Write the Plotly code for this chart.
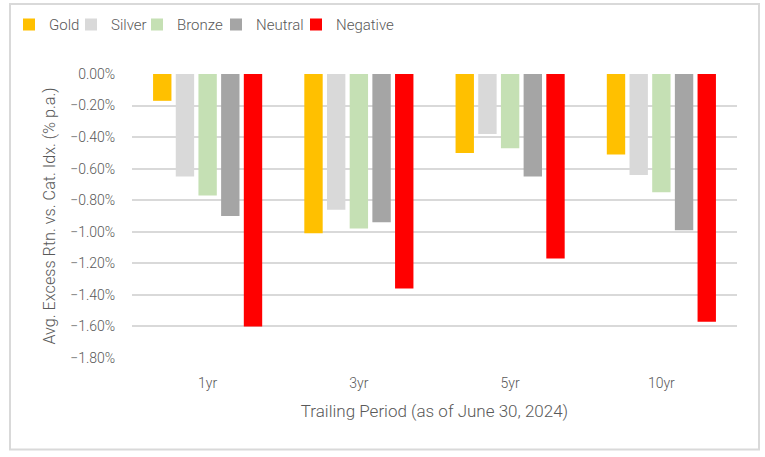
import plotly.graph_objects as go

periodes = ['1yr', '3yr', '5yr', '10yr']
gold = [-0.17, -1.01, -0.50, -0.51]
silver = [-0.65, -0.86, -0.38, -0.64]
bronze = [-0.77, -0.98, -0.47, -0.75]
neutral = [-0.90, -0.94, -0.65, -0.99]
negative = [-1.60, -1.36, -1.17, -1.57]
ticks_y = [0, -0.2, -0.4, -0.6, -0.8, -1.0, -1.2, -1.4, -1.6, -1.8]

series = [
    ('Gold', gold, '#FFC000'),
    ('Silver', silver, '#D9D9D9'),
    ('Bronze', bronze, '#C5E0B4'),
    ('Neutral', neutral, '#A5A5A5'),
    ('Negative', negative, '#FF0000'),
]

famille = 'Roboto, Liberation Sans, sans-serif'
gris = '#595959'
police = dict(family=famille, size=15, color=gris, weight=300)

# position (pixel) du carré de chaque entrée de légende
pos_legende = [29, 91, 157, 236, 316]
L, R, T, B = 132, 28, 74, 99
larg = 765 - L - R

fig = go.Figure()
for i, (nom, valeurs, couleur) in enumerate(series):
    leg = 'legend' if i == 0 else 'legend%d' % (i + 1)
    fig.add_trace(go.Bar(x=periodes, y=[v / 100 for v in valeurs], name=nom, legend=leg,
                         marker=dict(color=couleur, line=dict(width=0))))
    fig.update_layout({leg: dict(orientation='h', x=(pos_legende[i] - 20 - L) / larg, y=1.173,
                                 xanchor='left', yanchor='middle', font=police,
                                 itemwidth=30, bgcolor='rgba(0,0,0,0)')})

fig.update_layout(
    width=765, height=457,
    margin=dict(l=L, r=R, t=T, b=B, autoexpand=False),
    paper_bgcolor='white', plot_bgcolor='white',
    font=police, showlegend=True,
    barmode='group', bargap=0.25, bargroupgap=0.19,
)
fig.update_yaxes(range=[-0.018, 0], tickvals=[t / 100 for t in ticks_y], tickformat='.2%',
                 showgrid=True, gridcolor='#D9D9D9', gridwidth=1.5, zeroline=False,
                 ticks='outside', ticklen=13, tickcolor='rgba(0,0,0,0)', automargin=False,
                 tickfont=dict(family=famille, size=14, color=gris, weight=300),
                 title=dict(text='Avg. Excess Rtn. vs. Cat. Idx. (% p.a.)', standoff=10,
                            font=dict(family=famille, size=16.2, color=gris, weight=300)))
fig.update_xaxes(ticks='outside', ticklen=12, tickcolor='rgba(0,0,0,0)', showline=False,
                 automargin=False, tickfont=dict(family=famille, size=14, color=gris, weight=300),
                 title=dict(text='Trailing Period (as of June 30, 2024)', standoff=15,
                            font=dict(family=famille, size=17, color=gris, weight=300)))

# cadre gris autour du graphique
fig.add_shape(type='rect', xref='paper', yref='paper',
              x0=(10 - L) / larg, x1=(759 - L) / larg,
              y0=(357.7 - 449) / 283.7, y1=(357.7 - 4) / 283.7,
              line=dict(color='#D9D9D9', width=2), layer='below')

fig.write_html('out.html', config={'displayModeBar': False},
               post_script="document.body.style.margin='0';document.body.style.overflow='hidden';")
